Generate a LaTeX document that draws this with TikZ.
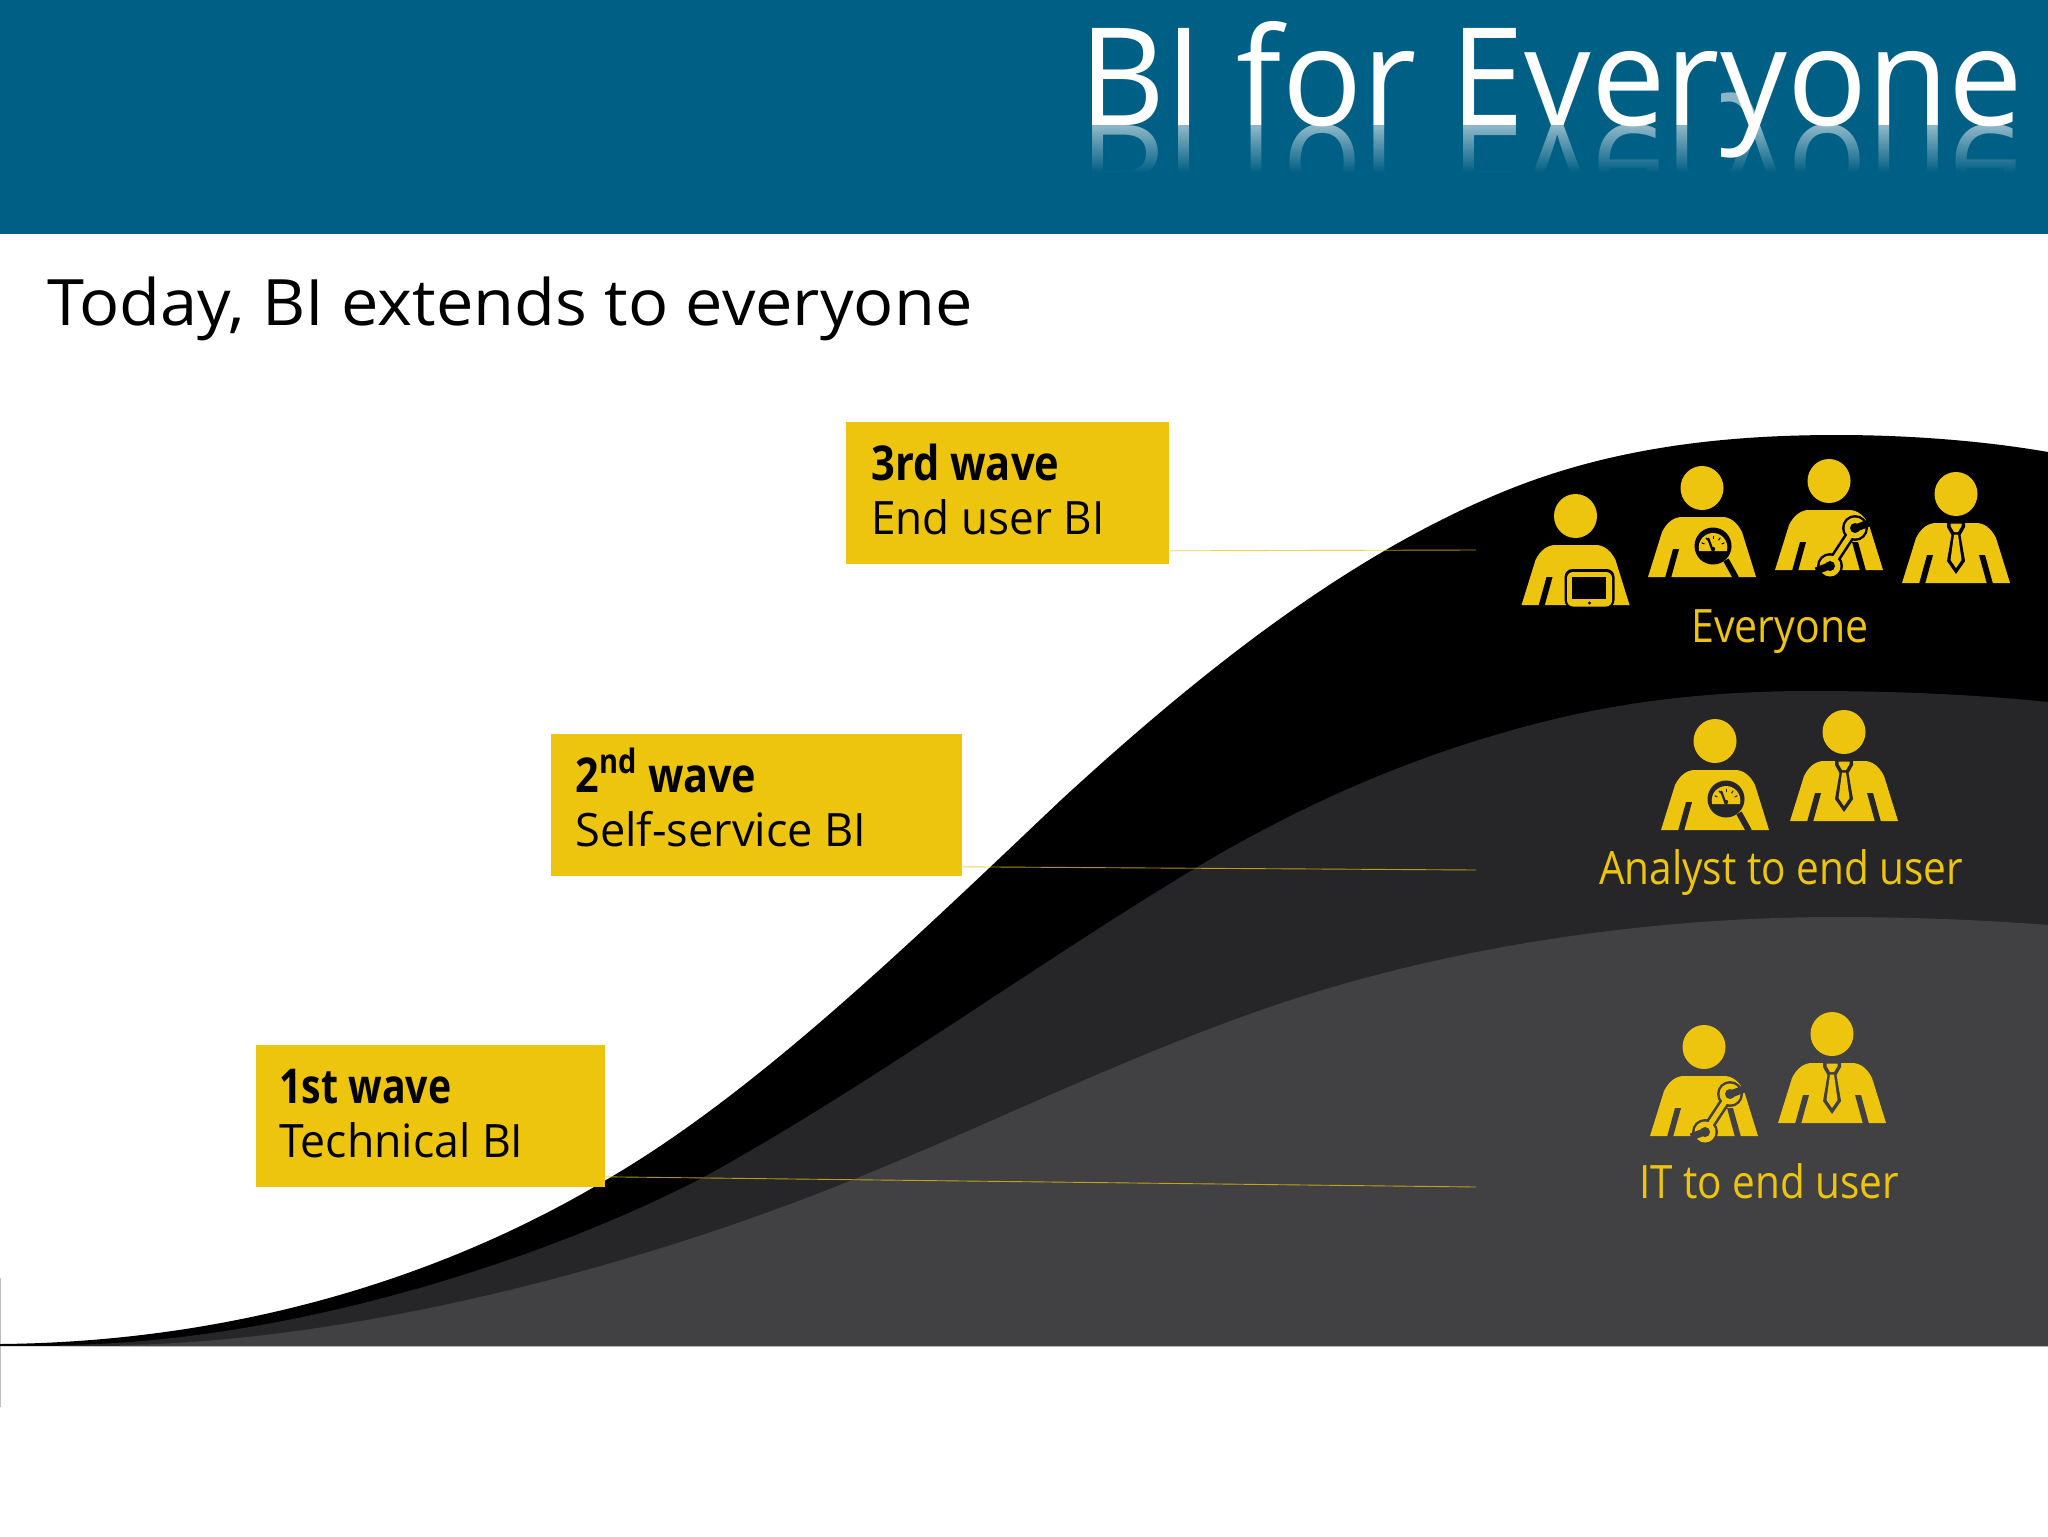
\documentclass[tikz,border=0pt]{standalone}
\usepackage{graphicx}
\usepackage{fontspec}
\usetikzlibrary{calc}
\setmainfont{Open Sans}
\definecolor{hdr}{HTML}{005F85}
\definecolor{gold}{HTML}{EDC50F}
\definecolor{midgray}{HTML}{262527}
\definecolor{lightgray}{HTML}{414042}
\newsavebox\fitbox
\newcommand\fitw[3][1]{\sbox\fitbox{#3}\pgfmathsetmacro\fitr{(#2*0.5pt)/\wd\fitbox}\scalebox{\fitr}[#1]{\usebox\fitbox}}
\tikzset{
  wavebox/.style={fill=gold,draw=none,inner sep=0pt,anchor=north west},
  wavehead/.style={anchor=base west,inner sep=0pt,font=\fontsize{24}{28}\selectfont\bfseries,text=black},
  wavesub/.style={anchor=base west,inner sep=0pt,font=\fontsize{23}{27}\selectfont,text=black},
  grouplabel/.style={anchor=base,inner sep=0pt,font=\fontsize{23}{27}\selectfont,text=gold},
  leader/.style={draw=gold,line width=0.45pt,opacity=.75},
}
\newcommand\personbase[3]{%
  \fill[gold] (#1,#2) circle [x radius=21.5,y radius=22];
  \begin{scope}[shift={(#1,#2)}]
    \fill[gold] (-54,89) -- (-40,44) .. controls (-35,34) and (-28,29) .. (-20,29) -- (20,29)
       .. controls (28,29) and (35,34) .. (40,44) -- (54,89) -- cycle;
    \fill[#3] (-29,61) -- (-23,61) -- (-31,90) -- (-37,90) -- cycle;
  \end{scope}}
\newcommand\rightslit[3]{\begin{scope}[shift={(#1,#2)}]
    \fill[#3] (29,61) -- (23,61) -- (31,90) -- (37,90) -- cycle;\end{scope}}
\newcommand\tieperson[3]{\personbase{#1}{#2}{#3}\rightslit{#1}{#2}{#3}
  \begin{scope}[shift={(#1,#2)}]
    \fill[#3] (-9,27) -- (9,27) -- (9,33) -- (4.5,41) -- (9,67) -- (0,80) -- (-9,67) -- (-4.5,41) -- (-9,33) -- cycle;
    \fill[gold] (-5.5,29.5) -- (5.5,29.5) -- (5.5,32) -- (2,38) -- (-2,38) -- (-5.5,32) -- cycle;
    \fill[gold] (-2,40.5) -- (2,40.5) -- (5.5,66) -- (0,74) -- (-5.5,66) -- cycle;
  \end{scope}}
\newcommand\tabletperson[3]{\personbase{#1}{#2}{#3}\rightslit{#1}{#2}{#3}
  \begin{scope}[shift={(#1,#2)}]
    \fill[#3,rounded corners=4] (-11,53) rectangle (39,92);
    \fill[gold,rounded corners=3] (-8.5,56) rectangle (36.5,90.5);
    \fill[#3] (-4,61) rectangle (30,83);
    \fill[#3] (14,87) circle [radius=1.6];
  \end{scope}}
\newcommand\gaugeperson[3]{\personbase{#1}{#2}{#3}
  \begin{scope}[shift={(#1,#2)}]
    \draw[#3,line width=3pt] (24,72) -- (34,90);
    \fill[#3] (11,58) circle [radius=18.5];
    \fill[gold] (-3,63) .. controls (-5,52) and (3,45) .. (11,45) .. controls (19,45) and (27,52) .. (25,63) -- cycle;
    \draw[#3,line width=1.1pt] (10.5,62) -- (6,50);
    \fill[#3] (11,61) circle [radius=2.2];
    \foreach \a in {-25,-55,-90,-125,-155} {
      \draw[#3,line width=.5pt] ($(11,60)+(\a:9.5)$) -- ($(11,60)+(\a:12.5)$);
    }
  \end{scope}}
\newcommand\wrenchperson[3]{\personbase{#1}{#2}{#3}\rightslit{#1}{#2}{#3}
  \begin{scope}[shift={(#1,#2)}]
    \draw[#3,line width=5.2pt] (26,47) -- (1,85);
    \fill[#3] (26,47) circle [radius=13];
    \fill[#3] (1,85) circle [radius=13];
    \draw[gold,line width=2.6pt] (26,47) -- (1,85);
    \fill[gold] (26,47) circle [radius=10.5];
    \fill[gold] (1,85) circle [radius=10.5];
    \fill[#3] (26,47) circle [radius=5];
    \fill[#3] (1,85) circle [radius=5];
    \draw[#3,line width=3.6pt] (27,47) -- (40,42);
    \draw[#3,line width=3.6pt] (0,85) -- (-13,90);
  \end{scope}}
\begin{document}
\begin{tikzpicture}[x=0.5pt,y=-0.5pt]
\useasboundingbox (0,0) rectangle (2048,1536);
\fill[white] (0,0) rectangle (2048,1536);
\fill[hdr] (0,0) rectangle (2048,234);
\node[anchor=base west,inner sep=0pt,text=white,opacity=.55,font=\fontsize{68}{80}\selectfont] (titleshadow) at (1079,126) {\fitw[-1]{944}{BI for Everyone}};
\foreach \i in {0,...,23} {
  \pgfmathsetmacro\op{min(1,\i/23)}
  \fill[hdr,opacity=\op] (1060,126+2*\i) rectangle (2048,128+2*\i);
}
\fill[hdr] (1060,172) rectangle (2048,234);
\node[anchor=base west,inner sep=0pt,text=white,font=\fontsize{68}{80}\selectfont] (title) at (1079,126) {\fitw{944}{BI for Everyone}};
\node[anchor=base west,inner sep=0pt,font=\fontsize{32}{38}\selectfont] (subtitle) at (47,325) {\fitw{925}{Today, BI extends to everyone}};
\draw[gray!50,line width=.5pt] (0.5,1278) -- (0.5,1407);
\fill[black] (0,1344) .. controls (220,1342) and (430,1285) .. (606,1180)
  .. controls (756,1093) and (911,942) .. (1061,800)
  .. controls (1211,662) and (1355,552) .. (1505,491)
  .. controls (1615,446) and (1730,435) .. (1837,435)
  .. controls (1910,435) and (1985,441) .. (2048,452) -- (2048,1346) -- (0,1346) -- cycle;
\fill[midgray] (60,1345) .. controls (280,1343) and (534,1265) .. (704,1177)
  .. controls (864,1089) and (1029,969) .. (1189,872)
  .. controls (1309,799) and (1431,749) .. (1551,720)
  .. controls (1640,698) and (1730,691) .. (1809,691)
  .. controls (1890,691) and (1970,694) .. (2048,702) -- (2048,1346) -- (60,1346) -- cycle;
\fill[lightgray] (120,1345) .. controls (350,1342) and (637,1268) .. (857,1178)
  .. controls (1007,1117) and (1150,1045) .. (1300,997)
  .. controls (1470,943) and (1660,917) .. (1837,917)
  .. controls (1910,917) and (1985,920) .. (2048,925) -- (2048,1346) -- (120,1346) -- cycle;
\node[wavebox,minimum width=161.5pt,minimum height=71pt] (b3) at (846,422) {};
\node[wavebox,minimum width=205.5pt,minimum height=71pt] (b2) at (551,734) {};
\node[wavebox,minimum width=174.5pt,minimum height=71pt] (b1) at (256,1045) {};
\node[wavehead] (b3h) at (871,480) {\fitw{188}{3rd wave}};
\node[wavesub] (b3s) at (871,534) {\fitw{233}{End user BI}};
\node[wavehead] (b2h) at (575,792) {\fitw{181}{2\textsuperscript{nd} wave}};
\node[wavesub] (b2s) at (575,846) {\fitw{291}{Self-service BI}};
\node[wavehead] (b1h) at (279,1103) {\fitw{172}{1st wave}};
\node[wavesub] (b1s) at (279,1157) {\fitw{244}{Technical BI}};
\coordinate (e3) at (1476,550);
\coordinate (e2) at (1476,870);
\coordinate (e1) at (1476,1187);
\draw[leader] ([yshift=7pt]b3.south east) -- (e3);
\draw[leader] ([yshift=5pt]b2.south east) -- (e2);
\draw[leader] ([yshift=5.5pt]b1.south east) -- (e1);
\tabletperson{1575.5}{516}{black}
\gaugeperson{1702}{488}{black}
\wrenchperson{1829}{481}{black}
\tieperson{1956}{494}{black}
\gaugeperson{1715}{741}{midgray}
\tieperson{1844}{732}{midgray}
\wrenchperson{1704}{1047}{lightgray}
\tieperson{1832}{1034}{lightgray}
\node[grouplabel] (g3) at (1780,642) {\fitw{177}{Everyone}};
\node[grouplabel] (g2) at (1781,884) {\fitw{364}{Analyst to end user}};
\node[grouplabel] (g1) at (1769,1198) {\fitw{260}{IT to end user}};
\end{tikzpicture}
\end{document}
